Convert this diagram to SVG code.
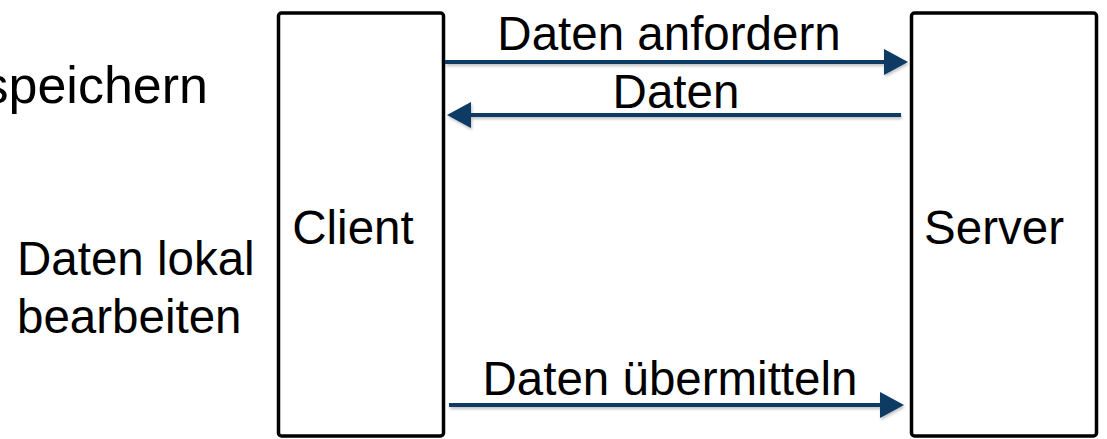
<svg xmlns="http://www.w3.org/2000/svg" width="1107" height="439" viewBox="0 0 1107 439">
  <style>
    .box { fill: #ffffff; stroke: #000000; stroke-width: 3.5; }
    .lbl { font-family: "Liberation Sans", Arial, Helvetica, sans-serif; font-size: 47.5px; fill: #000000; }
    .conn { stroke: #0a3a63; stroke-width: 4; fill: none; }
  </style>
  <defs>
    <marker id="arrow" markerUnits="userSpaceOnUse" markerWidth="24" markerHeight="26" refX="0" refY="13" orient="auto">
      <path d="M0,0 L24,13 L0,26 Z" fill="#0a3a63"/>
    </marker>
    <filter id="shadow" x="-5%" y="-50%" width="110%" height="300%">
      <feDropShadow dx="1" dy="2" stdDeviation="1.5" flood-color="#000" flood-opacity="0.25"/>
    </filter>
  </defs>
  <rect width="1107" height="439" fill="#ffffff"/>

  <g id="note-speichern">
    <text class="lbl" x="208" y="103" text-anchor="end" style="font-size:52px">speichern</text>
  </g>
  <g id="note-bearbeiten">
    <text class="lbl" x="17" y="275">Daten lokal</text>
    <text class="lbl" x="17" y="333">bearbeiten</text>
  </g>

  <g id="client">
    <rect class="box" x="278.5" y="13" width="165" height="423" rx="3"/>
    <text class="lbl" x="353" y="244" text-anchor="middle">Client</text>
  </g>
  <g id="server">
    <rect class="box" x="911.5" y="13" width="185" height="423" rx="3"/>
    <text class="lbl" x="994" y="244" text-anchor="middle">Server</text>
  </g>

  <g id="connectors" filter="url(#shadow)">
    <line class="conn" x1="445" y1="62" x2="884" y2="62" marker-end="url(#arrow)"/>
    <line class="conn" x1="901" y1="115" x2="471" y2="115" marker-end="url(#arrow)"/>
    <line class="conn" x1="449" y1="405" x2="880" y2="405" marker-end="url(#arrow)"/>
  </g>
  <g id="connector-labels">
    <text class="lbl" x="669" y="50" text-anchor="middle">Daten anfordern</text>
    <text class="lbl" x="676" y="108" text-anchor="middle">Daten</text>
    <text class="lbl" x="670" y="395" text-anchor="middle">Daten übermitteln</text>
  </g>
</svg>
